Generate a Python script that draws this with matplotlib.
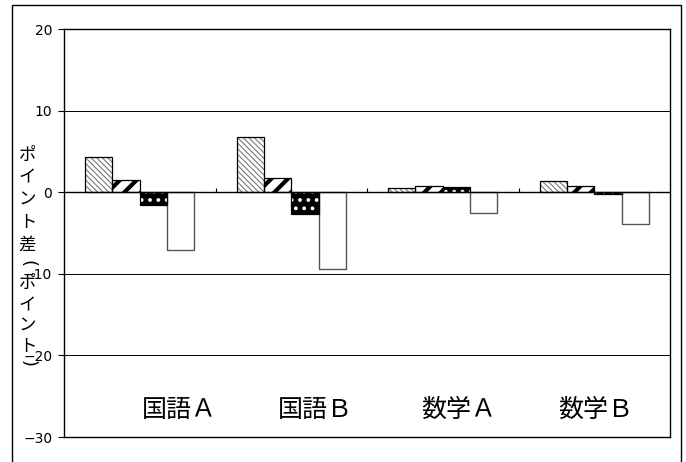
import matplotlib
matplotlib.use("Agg")
import matplotlib.pyplot as plt
import numpy as np
from matplotlib.patches import Rectangle

plt.rcParams['font.family'] = ['Noto Sans CJK JP', 'DejaVu Sans']

categories = ['国語Ａ', '国語Ｂ', '数学Ａ', '数学Ｂ']
series1 = [4.3, 6.8, 0.5, 1.4]
series2 = [1.5, 1.8, 0.7, 0.8]
series3 = [-1.6, -2.7, 0.6, -0.2]
series4 = [-7.1, -9.4, -2.6, -3.9]
yticks = [20, 10, 0, -10, -20, -30]
ylabel_chars = ['ポ', 'イ', 'ン', 'ト', '差', '(', 'ポ', 'イ', 'ン', 'ト', ')']

fig = plt.figure(figsize=(6.86, 4.62), dpi=100)
ax = fig.add_axes([0.0933, 0.0541, 0.8834, 0.8831])

# outer frame
fig.patches.append(Rectangle((12/686, -0.05), (681-12)/686, 1.05 - 5/462, transform=fig.transFigure,
                             fill=False, edgecolor='black', linewidth=1.0))

x = np.arange(len(categories))
w = 0.18

# series 1: thin grey back-diagonal hatch
with plt.rc_context({'hatch.linewidth': 0.8}):
    ax.bar(x - 1.5*w, series1, w, facecolor='white', edgecolor='#7a7a7a', hatch='\\\\\\\\\\\\', linewidth=0, zorder=3)
ax.bar(x - 1.5*w, series1, w, fill=False, edgecolor='black', linewidth=0.9, zorder=4)

# series 2: bold forward diagonal stripes
with plt.rc_context({'hatch.linewidth': 3.0}):
    ax.bar(x - 0.5*w, series2, w, facecolor='white', edgecolor='black', hatch='//', linewidth=0, zorder=3)
ax.bar(x - 0.5*w, series2, w, fill=False, edgecolor='black', linewidth=0.9, zorder=4)

# series 3: black with white dots
with plt.rc_context({'hatch.linewidth': 1.5}):
    ax.bar(x + 0.5*w, series3, w, facecolor='black', edgecolor='white', hatch='..', linewidth=0, zorder=3)
ax.bar(x + 0.5*w, series3, w, fill=False, edgecolor='black', linewidth=0.9, zorder=4)

# series 4: white
ax.bar(x + 1.5*w, series4, w, facecolor='white', edgecolor='#555555', linewidth=1.0, zorder=3)

ax.set_xlim(-0.5, len(categories) - 0.5)
ax.set_ylim(-30, 20)
ax.set_yticks(yticks)
ax.set_yticklabels([str(t).replace('-', '−') for t in yticks], fontsize=10, family=['DejaVu Sans'])
ax.tick_params(axis='y', direction='out', length=4, width=0.8, pad=4.5)
ax.set_xticks([])

for t in [10, -10, -20]:
    ax.axhline(t, color='black', linewidth=0.7, zorder=1)
ax.axhline(0, color='black', linewidth=1.0, zorder=5)
ax.vlines(x[:-1] + 0.5, 0, 0.5, color='black', linewidth=0.8, zorder=5)

for s in ax.spines.values():
    s.set_color('black')
    s.set_linewidth(1.0)

label_pos = [0.19, 0.415, 0.651, 0.878]
for lab, px in zip(categories, label_pos):
    ax.text(px, 0.066, lab, transform=ax.transAxes, ha='center', va='center', fontsize=18)

# vertical y-axis title, stacked characters
ypix = [155, 177, 200, 222, 245, 263, 283, 305, 326, 346, 364]
for ch, yp in zip(ylabel_chars, ypix):
    is_paren = ch in '()'
    fig.text(27.5/686, 1 - yp/462, ch, ha='center', va='center',
             fontsize=13 if is_paren else 12.5, rotation=-90 if is_paren else 0,
             family=['DejaVu Sans'] if is_paren else ['Noto Sans CJK JP'])

fig.savefig('out.png', dpi=100)
